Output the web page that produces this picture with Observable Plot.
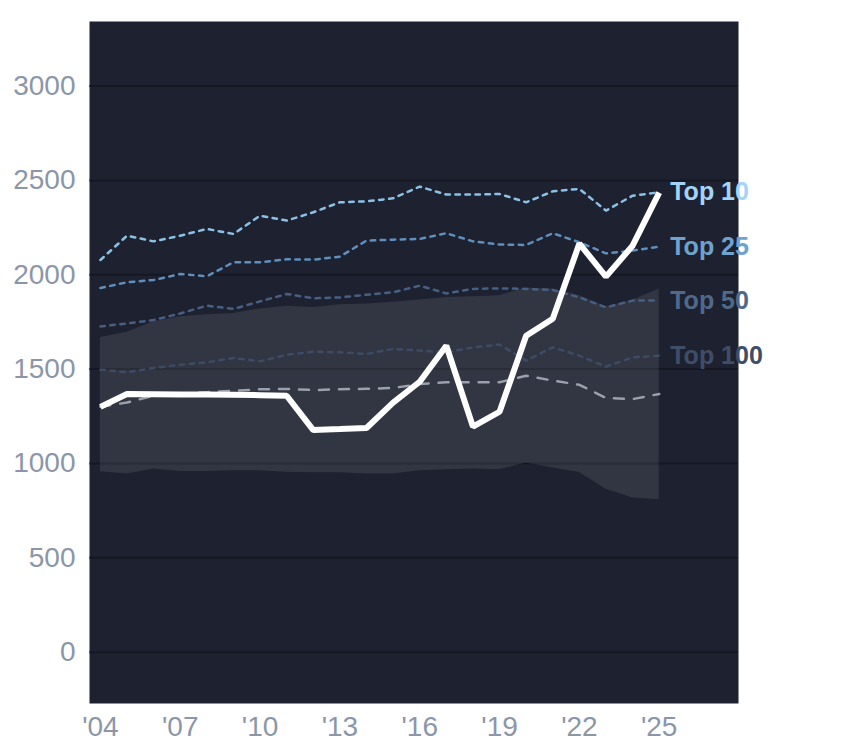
<!DOCTYPE html>
<html>
<head>
<meta charset="utf-8">
<script src="https://cdn.jsdelivr.net/npm/d3@7"></script>
<script src="https://cdn.jsdelivr.net/npm/@observablehq/plot@0.6"></script>
<style>
  html, body { margin: 0; padding: 0; background: #ffffff; }
</style>
</head>
<body>
<div id="chart"></div>
<script>
const years = [2004, 2005, 2006, 2007, 2008, 2009, 2010, 2011, 2012, 2013, 2014,
               2015, 2016, 2017, 2018, 2019, 2020, 2021, 2022, 2023, 2024, 2025];

const mainSeries = [1300, 1368, 1367, 1366, 1365, 1364, 1362, 1359, 1177, 1182, 1188,
                    1322, 1433, 1624, 1195, 1274, 1677, 1767, 2165, 1990, 2154, 2435];

const top10  = [2078, 2207, 2177, 2207, 2243, 2216, 2313, 2287, 2331, 2384, 2389,
                2405, 2467, 2425, 2425, 2428, 2384, 2442, 2455, 2340, 2419, 2437];
const top25  = [1930, 1960, 1972, 2004, 1992, 2066, 2066, 2082, 2080, 2096, 2181,
                2186, 2190, 2220, 2177, 2160, 2158, 2220, 2172, 2113, 2128, 2149];
const top50  = [1726, 1742, 1760, 1795, 1836, 1819, 1859, 1898, 1875, 1880, 1894,
                1907, 1942, 1901, 1925, 1928, 1925, 1919, 1880, 1827, 1863, 1863];
const top100 = [1497, 1483, 1506, 1523, 1536, 1559, 1541, 1576, 1592, 1589, 1580,
                1607, 1598, 1589, 1615, 1630, 1545, 1615, 1571, 1513, 1562, 1571];

const greyDashed = [1300, 1323, 1359, 1370, 1378, 1385, 1393, 1395, 1389, 1393, 1396,
                    1400, 1421, 1430, 1430, 1430, 1465, 1439, 1417, 1347, 1341, 1368];

const bandLow  = [956, 944, 970, 958, 958, 961, 961, 954, 951, 951, 944,
                  944, 961, 967, 970, 967, 1002, 976, 952, 864, 817, 808];
const bandHigh = [1668, 1695, 1751, 1778, 1788, 1795, 1819, 1833, 1827, 1841, 1845,
                  1854, 1866, 1880, 1884, 1889, 1930, 1925, 1890, 1830, 1865, 1925];

const xTicks = [2004, 2007, 2010, 2013, 2016, 2019, 2022, 2025];
const xTickLabels = ["'04", "'07", "'10", "'13", "'16", "'19", "'22", "'25"];
const yTicks = [0, 500, 1000, 1500, 2000, 2500, 3000];

const seriesNames  = ["Top 10", "Top 25", "Top 50", "Top 100"];
const seriesValues = [top10, top25, top50, top100];
const lineColors   = ["#8cc1e6", "#5f8fbd", "#465f82", "#3d4b66"];
const labelColors  = ["#a3d4f8", "#6fa2cf", "#50698b", "#404d66"];

const rows = years.map((year, i) => ({
  year,
  main: mainSeries[i],
  grey: greyDashed[i],
  lo: bandLow[i],
  hi: bandHigh[i]
}));

const dottedLines = seriesNames.map((name, k) =>
  Plot.line(years.map((year, i) => ({year, value: seriesValues[k][i]})), {
    x: "year", y: "value",
    stroke: lineColors[k], strokeWidth: 2.5, strokeDasharray: "4.5,5.5"
  })
);

const labels = seriesNames.map((name, k) =>
  Plot.text([{year: years[years.length - 1], value: seriesValues[k][years.length - 1], name}], {
    x: "year", y: "value", text: "name",
    fill: labelColors[k], dx: 11, textAnchor: "start",
    fontSize: 25, fontWeight: "bold"
  })
);

const chart = Plot.plot({
  width: 844,
  height: 748,
  marginTop: 21,
  marginBottom: 45,
  marginLeft: 89,
  marginRight: 106,
  style: {background: "#ffffff", fontFamily: "'Liberation Sans', Arial, Helvetica, sans-serif", overflow: "visible"},
  x: {domain: [2003.59, 2027.98]},
  y: {domain: [-272, 3342]},
  marks: [
    Plot.frame({fill: "#1e2230", stroke: null}),
    Plot.ruleY(yTicks, {stroke: "#0e1119", strokeOpacity: 0.55, strokeWidth: 2}),
    Plot.areaY(rows, {x: "year", y1: "lo", y2: "hi", fill: "#ffffff", fillOpacity: 0.09}),
    ...dottedLines,
    Plot.line(rows, {x: "year", y: "grey", stroke: "#9aa1ad", strokeWidth: 2.5, strokeDasharray: "10,10"}),
    Plot.line(rows, {x: "year", y: "main", stroke: "#ffffff", strokeWidth: 6, strokeLinejoin: "miter", strokeLinecap: "butt"}),
    ...labels,
    Plot.axisX({ticks: xTicks, tickFormat: d => xTickLabels[xTicks.indexOf(d)], tickSize: 0, tickPadding: 13, fontSize: 28, fill: "#8c96a8", label: null}),
    Plot.axisY({ticks: yTicks, tickFormat: d => String(d), tickSize: 0, tickPadding: 14, fontSize: 28, fill: "#8c96a8", label: null})
  ]
});

document.getElementById("chart").appendChild(chart);
</script>
</body>
</html>
